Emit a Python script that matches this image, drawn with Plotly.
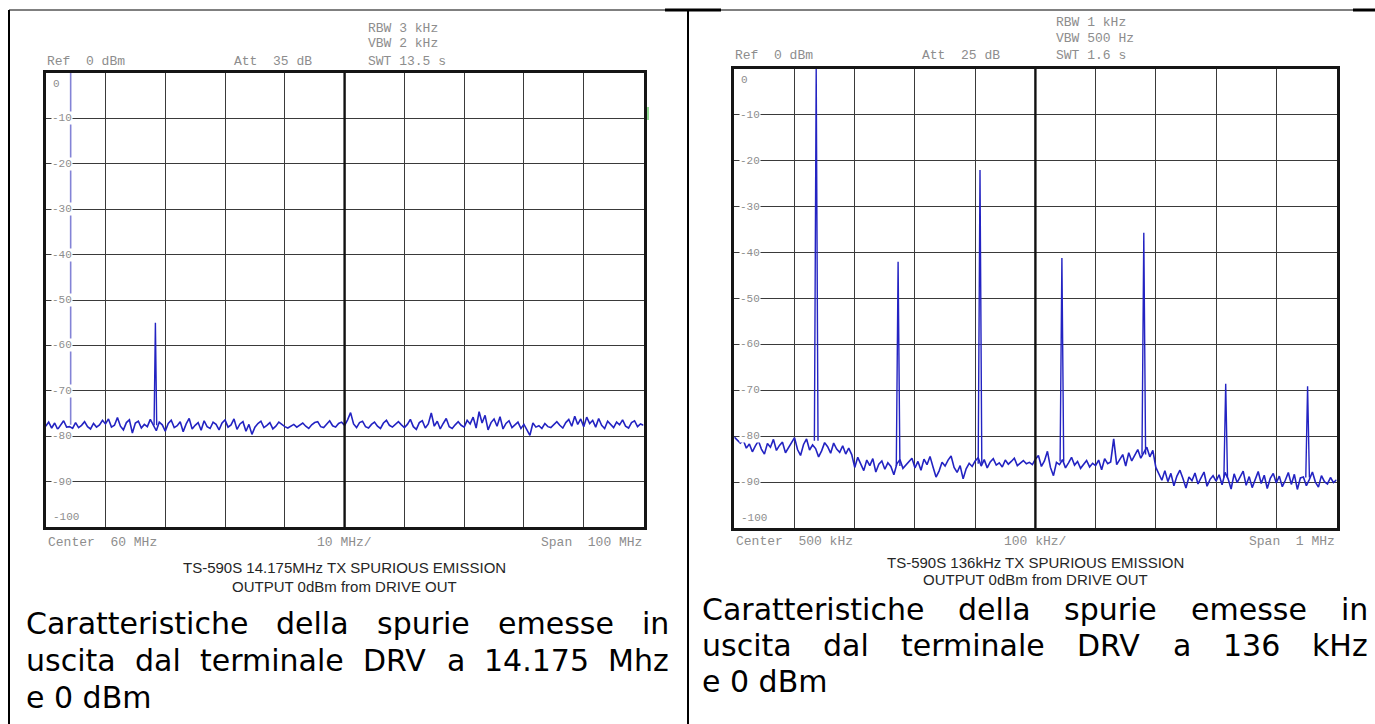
import plotly.graph_objects as go

W, H = 1375, 724

# ---------------- data: left panel (14.175 MHz TX, 10 MHz/div) ----------------
left_start_mhz = 10.0
left_stop_mhz = 110.0
left_noise_dbm = [
    -77.8, -76.9, -78.2, -77.1, -78.5, -77.4, -76.6, -78.0, -77.9, -78.3,
    -77.0, -78.1, -77.6, -76.8, -77.9, -78.4, -77.2, -78.0, -77.5, -76.5,
    -77.3, -76.2, -78.0, -77.6, -75.9, -77.8, -78.6, -77.0, -76.4, -79.3,
    -77.1, -76.7, -78.2, -77.4, -77.9, -76.3, -77.6, -78.8, -76.9, -77.5,
    -78.9, -77.2, -76.5, -78.1, -77.7, -76.8, -79.0, -77.3, -76.1, -78.4,
    -77.6, -77.0, -78.7, -76.6, -77.9, -78.3, -76.9, -77.4, -78.6, -77.1,
    -76.4, -78.0, -77.5, -76.2, -78.5, -77.3, -76.8, -78.9, -77.4, -79.6,
    -78.0, -77.2, -76.7, -78.1, -77.6, -77.0, -78.4, -77.8, -76.9, -77.5,
    -77.9, -78.2, -77.7, -77.4, -78.0, -77.6, -77.1, -77.8, -78.3, -77.5,
    -77.0, -76.8, -77.9, -78.1, -77.3, -76.6, -77.7, -78.0, -77.2, -76.9,
    -77.6, -76.4, -74.8, -77.3, -78.1, -77.0, -76.7, -77.9, -78.2, -77.4,
    -76.9, -77.8, -78.3, -77.1, -76.5, -77.6, -78.0, -77.3, -76.8, -77.5,
    -78.1, -77.4, -76.3, -77.9, -78.5, -77.0, -76.6, -78.2, -77.3, -74.9,
    -77.8, -76.7, -78.4, -77.2, -76.1, -77.9, -78.3, -77.5, -76.8, -77.6,
    -78.0, -76.5, -77.3, -75.8, -78.2, -74.6, -77.1, -75.4, -78.6, -77.0,
    -76.2, -77.8, -75.7, -78.4, -77.2, -76.6, -78.1, -77.5, -76.9, -78.3,
    -77.4, -78.6, -79.8, -77.1, -78.0, -77.7, -78.3, -77.2, -77.9, -78.1,
    -77.5, -76.8, -77.6, -78.2, -77.0, -76.3, -77.8, -75.6, -77.4, -76.2,
    -77.9, -75.8, -77.2, -76.5, -78.0, -76.1, -77.6, -78.3, -76.7, -77.4,
    -78.1, -76.9, -77.5, -76.4, -77.8, -78.2, -77.0, -76.6, -77.9, -77.3,
    -77.6,
]
left_carrier_mhz = 14.175
left_carrier_dbm = 0.0
left_carrier_base_dbm = -77.5
left_spur_mhz = [28.35]
left_spur_dbm = [-55.0]
left_spur_base_dbm = [-77.6]

# ---------------- data: right panel (136 kHz TX, 100 kHz/div) ----------------
right_start_khz = 0.0
right_stop_khz = 1000.0
right_noise_dbm = [
    -80.2, -80.8, -81.5, -80.9, -82.6, -81.7, -83.4, -82.1, -81.0, -82.8,
    -83.9, -81.6, -82.4, -80.7, -83.1, -82.0, -81.3, -83.6, -82.5, -81.1,
    -80.3, -82.9, -84.2, -81.8, -80.6, -83.0, -81.9, -82.7, -84.5, -83.2,
    -81.4, -82.3, -83.7, -81.5, -82.8, -83.5, -82.1, -83.9, -82.6, -84.0,
    -86.8, -84.6, -85.9, -87.5, -85.2, -86.4, -84.9, -87.8, -86.1, -85.4,
    -87.2, -85.8, -86.6, -88.4, -86.0, -85.1, -87.0, -86.3, -85.6, -84.8,
    -86.9, -85.5, -87.4, -85.0, -86.2, -84.4, -86.7, -88.9, -87.6, -85.7,
    -86.5, -85.2, -84.3, -86.8, -87.9, -86.4, -89.3, -87.1, -85.9, -86.6,
    -85.4, -84.7, -86.5, -85.1, -86.9, -85.6, -84.9, -86.3, -85.8, -86.7,
    -85.2, -86.1, -85.5, -84.8, -86.4, -85.9, -85.3, -86.0, -85.7, -86.2,
    -85.0, -84.2, -86.6, -85.4, -83.3, -86.8, -88.6, -85.7, -86.2, -85.1,
    -86.9, -85.8, -84.6, -86.3, -85.5, -87.0, -86.1, -85.3, -86.7, -85.9,
    -86.4, -85.2, -87.3, -84.9, -86.0, -85.6, -80.6, -86.2, -85.1, -84.0,
    -86.5, -83.6, -85.4, -84.3, -82.9, -84.8, -83.7, -82.4, -84.5, -83.1,
    -86.8, -88.3, -89.6, -87.5, -89.9, -88.1, -90.8, -88.7, -87.4, -89.2,
    -91.3, -88.9, -89.7, -88.0, -90.4, -89.1, -87.8, -90.9, -89.4, -88.6,
    -89.8, -88.4, -90.6, -87.9, -89.3, -91.5, -88.2, -90.1, -89.0, -87.6,
    -90.7, -88.8, -91.2, -89.5, -87.7, -90.3, -88.5, -91.4, -89.2, -88.1,
    -90.2, -88.7, -91.0, -89.6, -87.9, -90.5, -88.3, -91.6, -89.1, -88.9,
    -90.8, -89.4, -87.8, -90.0, -91.1, -88.6, -89.9, -90.4, -89.0, -90.1,
    -89.5,
]
right_carrier_khz = 136.0
right_carrier_dbm = 0.0
right_carrier_base_dbm = -81.0
right_harm_khz = [272, 408, 544, 680, 816, 952]
right_harm_dbm = [-42.0, -22.0, -41.2, -35.7, -68.6, -69.1]
right_harm_base_dbm = [-86.5, -86.0, -85.5, -84.0, -89.0, -89.0]

# ---------------- text ----------------
left_info = dict(ref="Ref\u00a0\u00a00\u00a0dBm", att="Att\u00a0\u00a035\u00a0dB",
                 rbw="RBW\u00a03\u00a0kHz", vbw="VBW\u00a02\u00a0kHz", swt="SWT\u00a013.5\u00a0s",
                 center="Center\u00a0\u00a060\u00a0MHz", div="10\u00a0MHz/", span="Span\u00a0\u00a0100\u00a0MHz",
                 sub1="TS-590S 14.175MHz TX SPURIOUS EMISSION", sub2="OUTPUT 0dBm from DRIVE OUT")
right_info = dict(ref="Ref\u00a0\u00a00\u00a0dBm", att="Att\u00a0\u00a025\u00a0dB",
                  rbw="RBW\u00a01\u00a0kHz", vbw="VBW\u00a0500\u00a0Hz", swt="SWT\u00a01.6\u00a0s",
                  center="Center\u00a0\u00a0500\u00a0kHz", div="100\u00a0kHz/", span="Span\u00a0\u00a01\u00a0MHz",
                  sub1="TS-590S 136kHz TX SPURIOUS EMISSION", sub2="OUTPUT 0dBm from DRIVE OUT")
left_caption = [["Caratteristiche", "della", "spurie", "emesse", "in"],
                ["uscita", "dal", "terminale", "DRV", "a", "14.175", "Mhz"],
                ["e 0 dBm"]]
right_caption = [["Caratteristiche", "della", "spurie", "emesse", "in"],
                 ["uscita", "dal", "terminale", "DRV", "a", "136", "kHz"],
                 ["e 0 dBm"]]
y_levels = [0, -10, -20, -30, -40, -50, -60, -70, -80, -90, -100]

# ---------------- layout geometry (pixels) ----------------
LBOX = (45.7, 643.5, 73, 527)    # x0, x1, ytop, ybottom
RBOX = (734.3, 1336.5, 69, 528)


def px(x):
    return x / W


def py(y):
    return 1 - y / H


def sweep(start, stop, n):
    step = (stop - start) / (n - 1)
    return [start + i * step for i in range(n)]


TRACE_BLUE = "#2323c2"
fig = go.Figure()

# left traces
lx = sweep(left_start_mhz, left_stop_mhz, len(left_noise_dbm))
fig.add_trace(go.Scatter(x=lx, y=left_noise_dbm, mode="lines",
                         line=dict(color=TRACE_BLUE, width=1.6), xaxis="x", yaxis="y", hoverinfo="skip"))
fig.add_trace(go.Scatter(x=[left_carrier_mhz, left_carrier_mhz],
                         y=[left_carrier_base_dbm, left_carrier_dbm], mode="lines",
                         line=dict(color="#8383d6", width=1.6), xaxis="x", yaxis="y", hoverinfo="skip"))
LW = 0.22
for f, lv, b in zip(left_spur_mhz, left_spur_dbm, left_spur_base_dbm):
    fig.add_trace(go.Scatter(x=[f - LW, f, f + LW], y=[b, lv, b], mode="lines",
                             line=dict(color=TRACE_BLUE, width=1.4), xaxis="x", yaxis="y", hoverinfo="skip"))

# right traces
rx = sweep(right_start_khz, right_stop_khz, len(right_noise_dbm))
fig.add_trace(go.Scatter(x=rx, y=right_noise_dbm, mode="lines",
                         line=dict(color=TRACE_BLUE, width=1.6), xaxis="x2", yaxis="y2", hoverinfo="skip"))
RW = 3.0
for f, lv, b in zip([right_carrier_khz] + right_harm_khz,
                    [right_carrier_dbm] + right_harm_dbm,
                    [right_carrier_base_dbm] + right_harm_base_dbm):
    fig.add_trace(go.Scatter(x=[f - RW, f, f + RW], y=[b, lv, b], mode="lines",
                             line=dict(color=TRACE_BLUE, width=1.4), xaxis="x2", yaxis="y2", hoverinfo="skip"))

GRID = "#3a3a3a"


def ax(domain, rng, dtick):
    return dict(domain=domain, range=rng, dtick=dtick, tick0=rng[0], showgrid=True,
                gridcolor=GRID, gridwidth=1.3, zeroline=False, showticklabels=False,
                ticks="", showline=True, mirror=True, linecolor="#151515", linewidth=3,
                fixedrange=True)


fig.update_layout(
    width=W, height=H, margin=dict(l=0, r=0, t=0, b=0),
    paper_bgcolor="white", plot_bgcolor="white", showlegend=False,
    xaxis=dict(ax([px(LBOX[0]), px(LBOX[1])], [left_start_mhz, left_stop_mhz], 10), anchor="y"),
    yaxis=dict(ax([py(LBOX[3]), py(LBOX[2])], [-100, 0], 10), anchor="x"),
    xaxis2=dict(ax([px(RBOX[0]), px(RBOX[1])], [right_start_khz, right_stop_khz], 100), anchor="y2"),
    yaxis2=dict(ax([py(RBOX[3]), py(RBOX[2])], [-100, 0], 10), anchor="x2"),
)

shapes = []
# thicker centre graticule lines
for xr, c in (("x", (left_start_mhz + left_stop_mhz) / 2), ("x2", (right_start_khz + right_stop_khz) / 2)):
    shapes.append(dict(type="line", xref=xr, yref=("y" if xr == "x" else "y2") + " domain",
                       x0=c, x1=c, y0=0, y1=1, line=dict(color="#111", width=2.4)))
# green reference-level marker at right edge of left screen
shapes.append(dict(type="line", xref="paper", yref="paper", x0=px(648), x1=px(648),
                   y0=py(107), y1=py(120), line=dict(color="#6fcf6f", width=1.5)))
# document table borders
BLK = "#000"
shapes += [
    dict(type="line", xref="paper", yref="paper", x0=px(9), x1=px(1375), y0=py(10), y1=py(10),
         line=dict(color=BLK, width=1)),
    dict(type="line", xref="paper", yref="paper", x0=px(665), x1=px(721), y0=py(10), y1=py(10),
         line=dict(color=BLK, width=3)),
    dict(type="line", xref="paper", yref="paper", x0=px(1353), x1=px(1375), y0=py(10), y1=py(10),
         line=dict(color=BLK, width=3)),
    dict(type="line", xref="paper", yref="paper", x0=px(9), x1=px(9), y0=py(10), y1=0,
         line=dict(color=BLK, width=2)),
    dict(type="line", xref="paper", yref="paper", x0=px(688), x1=px(688), y0=py(10), y1=0,
         line=dict(color=BLK, width=2)),
]
fig.update_layout(shapes=shapes)

MONO = "Liberation Mono"
GRAY = "#8d8d8d"
ann = []


def mono(text, xref, x, yref, y, xa, ya, xs=0, ys=0, size=13, bg=None):
    d = dict(text=text, xref=xref, x=x, yref=yref, y=y, xanchor=xa, yanchor=ya,
             xshift=xs, yshift=ys, showarrow=False, font=dict(family=MONO, size=size, color=GRAY),
             borderpad=0)
    if bg:
        d["bgcolor"] = bg
    ann.append(d)


def screen_text(info, xa, ya, dy):
    xd, yd = xa + " domain", ya + " domain"
    mono(info["ref"], xd, 0, yd, 1, "left", "middle", xs=0, ys=dy["ref"])
    mono(info["att"], xd, 0, yd, 1, "left", "middle", xs=187, ys=dy["ref"])
    mono(info["swt"], xd, 0, yd, 1, "left", "middle", xs=321, ys=dy["ref"])
    mono(info["vbw"], xd, 0, yd, 1, "left", "middle", xs=321, ys=dy["vbw"])
    mono(info["rbw"], xd, 0, yd, 1, "left", "middle", xs=321, ys=dy["rbw"])
    mono(info["center"], xd, 0, yd, 0, "left", "middle", xs=1, ys=dy["bottom"])
    mono(info["div"], xd, 0.5, yd, 0, "center", "middle", ys=dy["bottom"])
    mono(info["span"], xd, 1, yd, 0, "right", "middle", xs=-1, ys=dy["bottom"])
    for lv in y_levels:
        if lv == 0:
            mono(str(lv), xd, 0, ya, lv, "left", "top", xs=6, ys=-4, size=11)
        elif lv == -100:
            mono(str(lv), xd, 0, ya, lv, "left", "bottom", xs=6, ys=3, size=11)
        else:
            mono(str(lv), xd, 0, ya, lv, "left", "middle", xs=5, size=11, bg="white")
    for t, ys in ((info["sub1"], dy["sub1"]), (info["sub2"], dy["sub2"])):
        ann.append(dict(text=t, xref=xd, x=0.5, yref=yd, y=0, xanchor="center", yanchor="middle",
                        yshift=ys, showarrow=False, borderpad=0,
                        font=dict(family="Liberation Sans", size=15, color="#262626")))


screen_text(left_info, "x", "y", dict(ref=12, vbw=30, rbw=45, bottom=-15, sub1=-40, sub2=-59))
screen_text(right_info, "x2", "y2", dict(ref=13, vbw=30, rbw=46, bottom=-13, sub1=-34, sub2=-51))

# ---- captions (justified) ----
CAP_SIZE = 30
ADV = {" ": 651, ".": 651, "A": 1401, "B": 1405, "C": 1430, "D": 1577, "E": 1294, "H": 1540,
       "M": 1767, "R": 1423, "V": 1401, "a": 1255, "b": 1300, "c": 1126, "d": 1300, "e": 1260,
       "h": 1298, "i": 569, "k": 1186, "l": 569, "m": 1995, "n": 1298, "o": 1253, "p": 1300,
       "r": 842, "s": 1067, "t": 803, "u": 1298, "z": 1075}


def tw(s):
    return sum(ADV.get(c, 1303) for c in s) / 2048 * CAP_SIZE


def cap_word(t, x, y):
    ann.append(dict(text=t, xref="paper", x=px(x), yref="paper", y=py(y), xanchor="left",
                    yanchor="middle", showarrow=False, borderpad=0,
                    font=dict(family="DejaVu Sans", size=CAP_SIZE, color="#000")))


def caption(lines, x_left, x_right, ys):
    for words, y in zip(lines, ys):
        if len(words) == 1:
            cap_word(words[0], x_left, y)
            continue
        widths = [tw(w) for w in words]
        gap = (x_right - x_left - sum(widths)) / (len(words) - 1)
        x = x_left
        for w, wd in zip(words, widths):
            cap_word(w, x, y)
            x += wd + gap


caption(left_caption, 25, 668, [623, 660, 697])
caption(right_caption, 701, 1367, [609, 645, 681])

fig.update_layout(annotations=ann)
fig.write_html("out.html", config={"displayModeBar": False})
